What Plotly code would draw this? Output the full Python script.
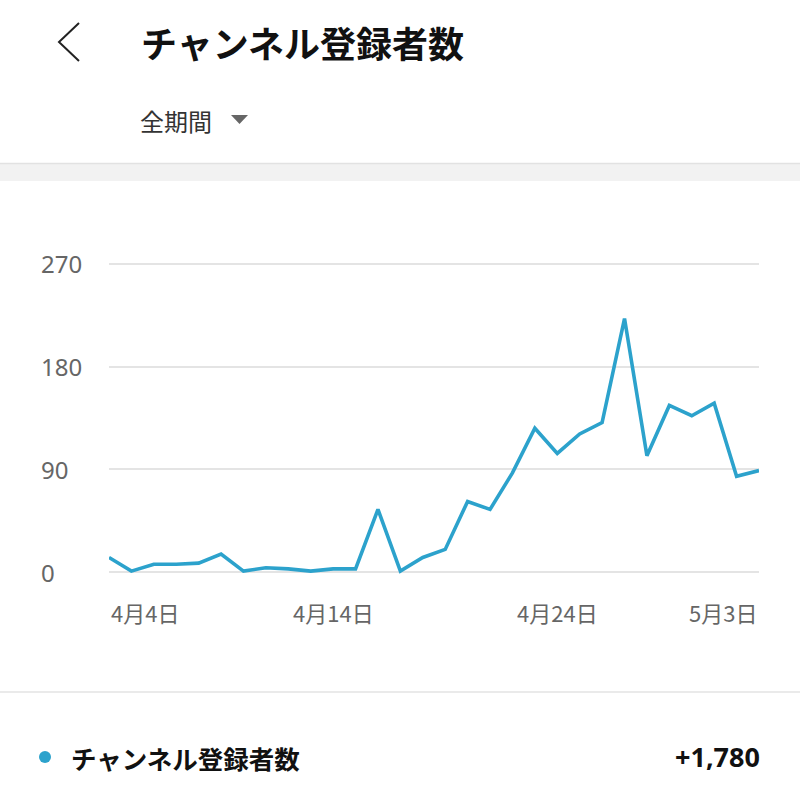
import plotly.graph_objects as go

# ---- data ----
days = ["4月4日", "4月5日", "4月6日", "4月7日", "4月8日", "4月9日", "4月10日", "4月11日",
        "4月12日", "4月13日", "4月14日", "4月15日", "4月16日", "4月17日", "4月18日", "4月19日",
        "4月20日", "4月21日", "4月22日", "4月23日", "4月24日", "4月25日", "4月26日", "4月27日",
        "4月28日", "4月29日", "4月30日", "5月1日", "5月2日", "5月3日"]
subscribers = [13, 1, 7, 7, 8, 16, 1, 4, 3, 1, 3, 3, 55, 1, 13, 20, 62, 55, 87, 126,
               104, 121, 131, 222, 102, 146, 137, 148, 84, 89]
y_ticks = [0, 90, 180, 270]
x_ticks = ["4月4日", "4月14日", "4月24日", "5月3日"]
title_text = "チャンネル登録者数"
period_text = "全期間"
series_name = "チャンネル登録者数"
total_text = "+1,780"

LINE_COLOR = "#2ca2cc"
FONT = "Noto Sans CJK JP"

W, H = 800, 800
L, R, T, B = 109, 41, 258, 222
PW, PH = W - L - R, H - T - B


def px(x):
    return (x - L) / PW


def py(y):
    return (H - B - y) / PH


fig = go.Figure()
fig.add_trace(go.Scatter(
    x=days, y=subscribers, mode="lines",
    line=dict(color=LINE_COLOR, width=3.6, shape="linear"),
    name=series_name, showlegend=False, hoverinfo="skip"))

annotations = []
# y tick labels, left-aligned
for v in y_ticks:
    annotations.append(dict(x=px(39), xref="paper", y=v, yref="y", text=str(v),
                            showarrow=False, xanchor="left", yanchor="middle",
                            font=dict(family="Noto Sans", size=24, color="#666666")))
# x tick labels
for i, lab in enumerate(x_ticks):
    anchor = "left" if i == 0 else ("right" if i == len(x_ticks) - 1 else "center")
    annotations.append(dict(x=lab, xref="x", y=py(612), yref="paper", text=lab,
                            showarrow=False, xanchor=anchor, yanchor="middle",
                            font=dict(family=FONT, size=22, color="#666666")))
# header
annotations.append(dict(x=px(139), xref="paper", y=py(42), yref="paper",
                        text="<b>" + title_text + "</b>", showarrow=False,
                        xanchor="left", yanchor="middle",
                        font=dict(family=FONT, size=36, color="#111111")))
annotations.append(dict(x=px(138), xref="paper", y=py(120), yref="paper",
                        text=period_text, showarrow=False,
                        xanchor="left", yanchor="middle",
                        font=dict(family=FONT, size=24, color="#333333")))
# legend row
annotations.append(dict(x=px(69), xref="paper", y=py(757), yref="paper",
                        text="<b>" + series_name + "</b>", showarrow=False,
                        xanchor="left", yanchor="middle",
                        font=dict(family=FONT, size=25.5, color="#111111")))
annotations.append(dict(x=px(762), xref="paper", y=py(756), yref="paper",
                        text="<b>" + total_text + "</b>", showarrow=False,
                        xanchor="right", yanchor="middle",
                        font=dict(family="Noto Sans", size=27, color="#111111")))

shapes = [
    # back chevron
    dict(type="path", xref="paper", yref="paper",
         path=f"M {px(79)} {py(23)} L {px(59)} {py(42)} L {px(79)} {py(61)}",
         line=dict(color="#222222", width=2)),
    # dropdown triangle
    dict(type="path", xref="paper", yref="paper",
         path=f"M {px(231)} {py(115)} L {px(248)} {py(115)} L {px(239.5)} {py(124)} Z",
         fillcolor="#666666", line=dict(width=0)),
    # gray band
    dict(type="rect", xref="paper", yref="paper", x0=px(0), x1=px(800), y0=py(164), y1=py(181),
         fillcolor="#f2f2f2", line=dict(width=0), layer="below"),
    dict(type="line", xref="paper", yref="paper", x0=px(0), x1=px(800), y0=py(163.5), y1=py(163.5),
         line=dict(color="#e2e2e2", width=1.5)),
    # separator
    dict(type="line", xref="paper", yref="paper", x0=px(0), x1=px(800), y0=py(692), y1=py(692),
         line=dict(color="#e3e3e3", width=1.5)),
    # legend dot
    dict(type="circle", xref="paper", yref="paper", x0=px(39), x1=px(51), y0=py(751), y1=py(763),
         fillcolor=LINE_COLOR, line=dict(width=0)),
]

fig.update_layout(
    width=W, height=H, margin=dict(l=L, r=R, t=T, b=B),
    paper_bgcolor="white", plot_bgcolor="white",
    xaxis=dict(type="category", range=[0, len(days) - 1], showgrid=False, zeroline=False,
               showline=False, showticklabels=False, ticks=""),
    yaxis=dict(range=[-5, 275], tickvals=y_ticks, showgrid=True, gridcolor="#e4e4e4",
               gridwidth=1.5, zeroline=False, showline=False, showticklabels=False, ticks=""),
    annotations=annotations, shapes=shapes, showlegend=False,
)

fig.write_html("out.html")
